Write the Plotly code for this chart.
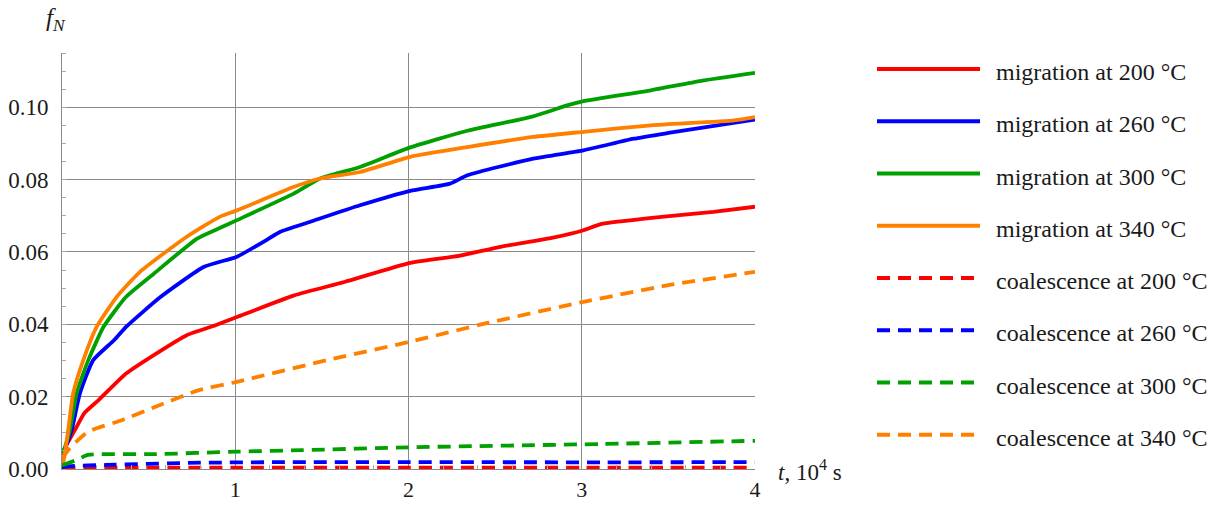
import plotly.graph_objects as go

# ---- data: fraction of nuclei f_N versus time t (in 10^4 s) ----
t_mig200 = [0, 0.03, 0.075, 0.13, 0.21, 0.37, 0.53, 0.72, 0.89, 1.01, 1.34, 1.63, 2.01, 2.30, 2.53, 2.82, 3.01, 3.11, 3.46, 3.76, 4.0]
f_mig200 = [0.004, 0.007, 0.0108, 0.0155, 0.019, 0.0264, 0.0315, 0.037, 0.0398, 0.042, 0.048, 0.0517, 0.057, 0.059, 0.0614, 0.0638, 0.066, 0.0677, 0.0697, 0.0711, 0.0725]

t_mig260 = [0, 0.02, 0.056, 0.104, 0.18, 0.30, 0.37, 0.57, 0.82, 1.01, 1.18, 1.26, 1.43, 1.72, 2.01, 2.24, 2.34, 2.72, 3.01, 3.30, 3.5, 4.0]
f_mig260 = [0.004, 0.006, 0.0108, 0.021, 0.0301, 0.0356, 0.0393, 0.0476, 0.0559, 0.0587, 0.0633, 0.0656, 0.0683, 0.0729, 0.0769, 0.0789, 0.0812, 0.0858, 0.0881, 0.0913, 0.0929, 0.0966]

t_mig300 = [0, 0.02, 0.046, 0.085, 0.152, 0.24, 0.37, 0.53, 0.78, 0.91, 1.01, 1.34, 1.49, 1.72, 2.01, 2.34, 2.72, 2.92, 3.01, 3.40, 3.69, 4.0]
f_mig300 = [0.004, 0.0065, 0.0108, 0.021, 0.0301, 0.0393, 0.0476, 0.054, 0.0637, 0.0666, 0.0688, 0.0762, 0.0803, 0.0835, 0.0889, 0.0935, 0.0975, 0.1006, 0.1017, 0.1047, 0.1073, 0.1095]

t_mig340 = [0, 0.017, 0.036, 0.065, 0.123, 0.20, 0.316, 0.45, 0.72, 0.91, 1.01, 1.34, 1.49, 1.72, 2.01, 2.34, 2.72, 3.01, 3.40, 3.88, 4.0]
f_mig340 = [0.0, 0.0044, 0.0108, 0.021, 0.0301, 0.0393, 0.0476, 0.0545, 0.0642, 0.0697, 0.0715, 0.078, 0.0803, 0.0821, 0.0863, 0.089, 0.0918, 0.0932, 0.095, 0.0964, 0.0973]

t_coal200 = [0, 1, 2, 3, 4]
f_coal200 = [0.0004, 0.0004, 0.0004, 0.0004, 0.0004]

t_coal260 = [0, 0.04, 0.25, 0.73, 1.31, 2.0, 3.11, 4.0]
f_coal260 = [0.0005, 0.0008, 0.0011, 0.0017, 0.0019, 0.0019, 0.00185, 0.0019]

t_coal300 = [0, 0.085, 0.15, 0.54, 1.01, 1.39, 2.0, 3.11, 4.0]
f_coal300 = [0.001, 0.0025, 0.0039, 0.0041, 0.0048, 0.0052, 0.006, 0.0069, 0.0078]

t_coal340 = [0, 0.03, 0.046, 0.15, 0.345, 0.54, 0.79, 1.01, 1.53, 2.01, 2.45, 3.01, 3.5, 4.0]
f_coal340 = [0.003, 0.0048, 0.0058, 0.0103, 0.0135, 0.0172, 0.0218, 0.0241, 0.0301, 0.0352, 0.0403, 0.0462, 0.0508, 0.0545]

x_ticks = [1, 2, 3, 4]
y_ticks = [0.0, 0.02, 0.04, 0.06, 0.08, 0.10]
y_ticktext = ["0.00", "0.02", "0.04", "0.06", "0.08", "0.10"]

RED, BLUE, GREEN, ORANGE = "#ff0000", "#0000ff", "#00a000", "#ff8000"
DASH = "13px,8px"

series = [
    ("migration at 200 °C", t_mig200, f_mig200, RED, "solid"),
    ("migration at 260 °C", t_mig260, f_mig260, BLUE, "solid"),
    ("migration at 300 °C", t_mig300, f_mig300, GREEN, "solid"),
    ("migration at 340 °C", t_mig340, f_mig340, ORANGE, "solid"),
    ("coalescence at 200 °C", t_coal200, f_coal200, RED, DASH),
    ("coalescence at 260 °C", t_coal260, f_coal260, BLUE, DASH),
    ("coalescence at 300 °C", t_coal300, f_coal300, GREEN, DASH),
    ("coalescence at 340 °C", t_coal340, f_coal340, ORANGE, DASH),
]

FONT = "Liberation Serif"
TXT = "#1a1a1a"
GRID = "#8a8a8a"

# plot area in pixels
W, H = 1222, 505
L, R, T, B = 62, 755, 53, 469


def px(x):
    return (x - L) / (R - L)


def py(y):
    return (B - y) / (B - T)


fig = go.Figure()
for name, t, f, color, dash in series:
    fig.add_trace(go.Scatter(
        x=t, y=f, mode="lines", name=name, showlegend=False,
        line=dict(color=color, width=3.8, dash=dash, shape="spline", smoothing=0.5),
    ))

# hand-drawn legend on the right
shapes = []
annotations = []
for i, (name, t, f, color, dash) in enumerate(series):
    yc = 69 + 52.25 * i
    shapes.append(dict(
        type="line", xref="paper", yref="paper",
        x0=px(877), x1=px(980), y0=py(yc), y1=py(yc),
        line=dict(color=color, width=3.8, dash=dash),
    ))
    annotations.append(dict(
        xref="paper", yref="paper", x=px(994), y=py(yc + 3),
        text=name, showarrow=False, xanchor="left", yanchor="middle",
        font=dict(family=FONT, size=24, color=TXT),
    ))

# axis captions
annotations.append(dict(
    xref="paper", yref="paper", x=px(44), y=py(20),
    text="<i>f</i><sub><i>N</i></sub>", showarrow=False,
    xanchor="left", yanchor="middle",
    font=dict(family=FONT, size=25, color=TXT),
))
annotations.append(dict(
    xref="paper", yref="paper", x=px(776), y=py(470),
    text="<i>t</i>, 10<sup>4</sup> s", showarrow=False,
    xanchor="left", yanchor="middle",
    font=dict(family=FONT, size=23, color=TXT),
))

fig.update_layout(
    width=W, height=H,
    margin=dict(l=L, r=W - R, t=T, b=H - B, pad=0, autoexpand=False),
    paper_bgcolor="white", plot_bgcolor="white",
    shapes=shapes, annotations=annotations,
    font=dict(family=FONT, size=23, color=TXT),
)
fig.update_xaxes(
    range=[0, 4], tickvals=x_ticks, ticks="", showgrid=True,
    gridcolor=GRID, gridwidth=1, zeroline=False, automargin=False,
    showline=True, linecolor=GRID, linewidth=1,
    ticklabelstandoff=1,
    minor=dict(tickvals=[0.2, 0.4, 0.6, 0.8, 1.2, 1.4, 1.6, 1.8, 2.2, 2.4, 2.6, 2.8, 3.2, 3.4, 3.6, 3.8],
               ticks="inside", ticklen=4, tickcolor="#aaaaaa", showgrid=False),
    tickfont=dict(family=FONT, size=22, color=TXT),
)
fig.update_yaxes(
    range=[0, 0.115], tickvals=y_ticks, ticktext=y_ticktext, ticks="",
    showgrid=True, gridcolor=GRID, gridwidth=1, zeroline=False, automargin=False,
    showline=True, linecolor=GRID, linewidth=1,
    ticklabelstandoff=8,
    minor=dict(dtick=0.005, tick0=0, ticks="inside", ticklen=4,
               tickcolor="#aaaaaa", showgrid=False),
    tickfont=dict(family=FONT, size=23, color=TXT),
)

fig.write_html("out.html")
